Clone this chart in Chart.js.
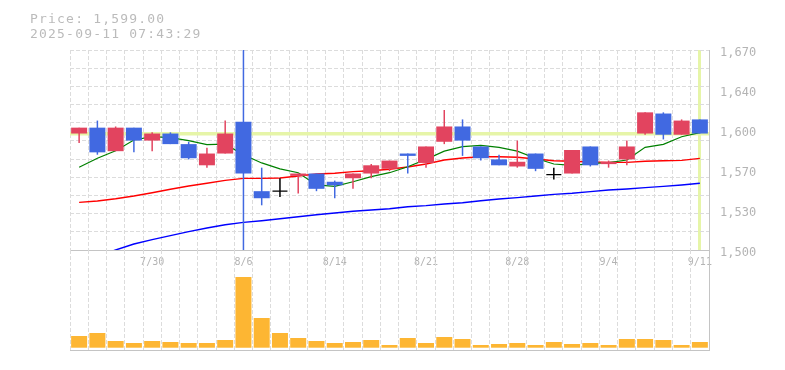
<!DOCTYPE html>
<html>
<head>
<meta charset="utf-8">
<script src="https://cdn.jsdelivr.net/npm/chart.js@4.4.0/dist/chart.umd.min.js"></script>
<style>
  html, body { margin: 0; padding: 0; background: #ffffff; }
  #wrap { position: relative; width: 785px; height: 370px; overflow: hidden; background: #fff; }
  #head { position: absolute; left: 30px; top: 10.5px; font-family: "DejaVu Sans Mono", monospace; font-size: 13px; line-height: 15px; letter-spacing: 1.2px; color: #bbbbbb; white-space: pre; }
  #price { position: absolute; left: 0; top: 0; }
  #vol { position: absolute; left: 0; top: 250px; }
</style>
</head>
<body>
<div id="wrap">
  <canvas id="price" width="785" height="275"></canvas>
  <canvas id="vol" width="785" height="110"></canvas>
  <div id="head">Price: 1,599.00
2025-09-11 07:43:29</div>
</div>
<script>
// ---- data ----
const dates = ['7/24','7/25','7/28','7/29','7/30','7/31','8/1','8/4','8/5','8/6','8/7','8/8','8/12','8/13','8/14','8/15','8/18','8/19','8/20','8/21','8/22','8/25','8/26','8/27','8/28','8/29','9/1','9/2','9/3','9/4','9/5','9/8','9/9','9/10','9/11'];
const xTickLabels = ['7/30','8/6','8/14','8/21','8/28','9/4','9/11'];
const openP  = [1599,1604,1584,1604,1593,1599,1590,1572,1582,1609,1550,1550,1563,1565,1558,1561,1565,1569,1582,1574,1592,1605,1588,1577,1571,1582,1564,1565,1588,1573,1577,1599,1616,1598,1611];
const closeP = [1604,1583,1604,1593,1599,1590,1578,1582,1599,1565,1544,1550,1565,1552,1555,1565,1572,1576,1580,1588,1605,1593,1578,1572,1575,1569,1564,1585,1572,1575,1588,1617,1598,1610,1599];
const highP  = [1604,1610,1605,1604,1600,1600,1592,1587,1610,1690,1570,1561,1565,1565,1559,1565,1573,1576,1582,1588,1619,1611,1588,1581,1593,1582,1570,1585,1588,1576,1593,1617,1617,1611,1611];
const lowP   = [1591,1581,1584,1583,1584,1590,1577,1570,1582,1480,1538,1545,1548,1550,1544,1552,1561,1567,1565,1570,1590,1580,1576,1572,1570,1567,1560,1565,1571,1570,1572,1598,1594,1598,1599];
const ma5  = [1570.3,1578,1584.4,1593.5,1596.3,1595.5,1593,1589.5,1590,1581,1574,1569,1565.7,1555.3,1554.1,1558,1562.3,1565.7,1570.8,1577,1584,1587.8,1589,1587.3,1584,1578,1573.1,1572,1573.4,1574.2,1576.5,1587.3,1589.8,1596.3,1599.7];
const ma25 = [1540.5,1541.7,1543.6,1545.9,1548.7,1551.6,1554.4,1556.7,1559.2,1560.9,1560.9,1561.2,1562.9,1564.6,1565.2,1566.6,1567.4,1568.6,1570.5,1573.1,1576.5,1578.2,1579.3,1579.3,1578.8,1577.4,1575.9,1575.4,1574.8,1574.5,1574.5,1575.4,1575.9,1576.2,1577.9];
const ma75 = [1490,1495,1500,1505.1,1508.8,1512.2,1515.6,1518.7,1521.5,1523.5,1524.9,1526.6,1528.3,1530,1531.5,1532.9,1534,1535.1,1536.8,1537.7,1539.1,1540.2,1541.9,1543.4,1544.5,1545.9,1547.3,1548.2,1549.6,1551,1551.9,1553,1554.1,1555.3,1556.7];
const volume = [117,147,67,47,67,57,47,47,77,707,297,147,97,67,47,57,77,27,97,47,107,87,27,37,47,27,57,37,47,27,87,87,77,27,57];
const yTickValues = [1500,1534,1568,1602,1636,1670];
const yTickLabels = ['1,500','1,530','1,570','1,600','1,640','1,670'];
const currentPrice = 1599;
const currentDate = '9/11';

// ---- styles ----
const upColor = '#e2445f', downColor = '#4169e1', flatColor = '#000000';
const gridColor = '#dcdcdc', borderColor = '#c4c4c4', crossColor = '#e6f5a8';
const labelColor = '#b4b4b4', volColor = '#fdb633';
const mono = '"DejaVu Sans Mono", monospace';
const currentIndex = dates.indexOf(currentDate);
const candleColor = openP.map((o, i) => closeP[i] > o ? upColor : (closeP[i] < o ? downColor : flatColor));

const spacingPlugin = {
  id: 'spacing',
  afterDatasetsDraw(chart) { chart.ctx.letterSpacing = '1.3px'; },
  afterDraw(chart) { chart.ctx.letterSpacing = '0px'; }
};

const ax = { xAxisID: 'x', yAxisID: 'y' };

new Chart(document.getElementById('price'), {
  type: 'bar',
  data: {
    labels: dates,
    datasets: [
      { ...ax, type: 'line', label: 'doji', data: closeP.map((c, i) => c === openP[i] ? c : null), showLine: false,
        pointStyle: 'line', pointRadius: 7.5, pointBorderColor: flatColor, pointBorderWidth: 1.2, order: 0 },
      { ...ax, label: 'body', data: openP.map((o, i) => [o, closeP[i]]), backgroundColor: candleColor,
        barThickness: 16, grouped: false, inflateAmount: 0, order: 1 },
      { ...ax, label: 'wick', data: lowP.map((l, i) => [l, highP[i]]), backgroundColor: candleColor,
        barThickness: 1.5, grouped: false, inflateAmount: 0, order: 2 },
      { ...ax, type: 'line', label: 'MA5', data: ma5, borderColor: '#008000', borderWidth: 1.2, pointRadius: 0, tension: 0, order: 3 },
      { ...ax, type: 'line', label: 'MA25', data: ma25, borderColor: '#ff0000', borderWidth: 1.4, pointRadius: 0, tension: 0, order: 4 },
      { ...ax, type: 'line', label: 'MA75', data: ma75, borderColor: '#0000ff', borderWidth: 1.4, pointRadius: 0, tension: 0, order: 5 }
    ]
  },
  options: {
    responsive: false, animation: false, devicePixelRatio: 1,
    layout: { padding: { left: 70, top: 50, right: 0, bottom: 0 } },
    plugins: { legend: { display: false }, tooltip: { enabled: false } },
    scales: {
      x: {
        type: 'category', position: 'bottom', offset: true,
        grid: { offset: true, color: gridColor, drawTicks: false, lineWidth: 1 },
        border: { display: true, color: borderColor, width: 1, dash: [4, 2] },
        ticks: { autoSkip: false, maxRotation: 0, minRotation: 0, padding: 6, color: labelColor,
          font: { family: mono, size: 10 },
          callback: function (v, i) { const l = dates[i]; return xTickLabels.includes(l) ? l : ''; } },
        afterFit: s => { s.height = 25; }
      },
      xc: {
        type: 'category', position: 'bottom', offset: true,
        grid: { offset: false, drawTicks: false, lineWidth: 3,
          color: ctx => ctx.index === currentIndex ? crossColor : 'rgba(0,0,0,0)' },
        border: { display: false },
        ticks: { display: false, autoSkip: false },
        afterFit: s => { s.height = 0; }
      },
      yg: {
        type: 'linear', position: 'left', min: 0, max: 11,
        afterBuildTicks: s => { s.ticks = Array.from({ length: 12 }, (_, i) => ({ value: i })); },
        grid: { color: gridColor, drawTicks: false, lineWidth: 1 },
        border: { display: false, dash: [4, 2] },
        ticks: { display: false },
        afterFit: s => { s.width = 0; }
      },
      yc: {
        type: 'linear', position: 'right', min: yTickValues[0], max: yTickValues[yTickValues.length - 1],
        afterBuildTicks: s => { s.ticks = [{ value: currentPrice }]; },
        grid: { color: crossColor, lineWidth: 3.5, drawTicks: false },
        border: { display: false },
        ticks: { display: false },
        afterFit: s => { s.width = 0; }
      },
      y: {
        type: 'linear', position: 'right', min: yTickValues[0], max: yTickValues[yTickValues.length - 1], z: 1,
        afterBuildTicks: s => { s.ticks = yTickValues.map(v => ({ value: v })); },
        grid: { display: false, drawTicks: false },
        border: { display: true, color: borderColor, width: 1 },
        ticks: { padding: 11, labelOffset: 2.5, color: labelColor, font: { family: mono, size: 12 },
          callback: function (v) { const k = yTickValues.indexOf(v); return k >= 0 ? yTickLabels[k] : ''; } },
        afterFit: s => { s.width = 76; }
      }
    }
  },
  plugins: [spacingPlugin]
});

new Chart(document.getElementById('vol'), {
  type: 'bar',
  data: {
    labels: dates,
    datasets: [
      { label: 'Volume', data: volume, backgroundColor: volColor, barThickness: 16, inflateAmount: 0 }
    ]
  },
  options: {
    responsive: false, animation: false, devicePixelRatio: 1,
    layout: { padding: { left: 70, top: 0, right: 0, bottom: 10 } },
    plugins: { legend: { display: false }, tooltip: { enabled: false } },
    scales: {
      x: {
        type: 'category', offset: true,
        grid: { offset: true, color: gridColor, drawTicks: false, lineWidth: 1 },
        border: { display: true, color: borderColor, width: 1, dash: [4, 2] },
        ticks: { display: false, autoSkip: false },
        afterFit: s => { s.height = 0; }
      },
      y: {
        type: 'linear', position: 'right', min: -23, max: 977,
        grid: { display: false, drawTicks: false },
        border: { display: true, color: borderColor, width: 1 },
        ticks: { display: false },
        afterFit: s => { s.width = 76; }
      }
    }
  }
});
</script>
</body>
</html>
